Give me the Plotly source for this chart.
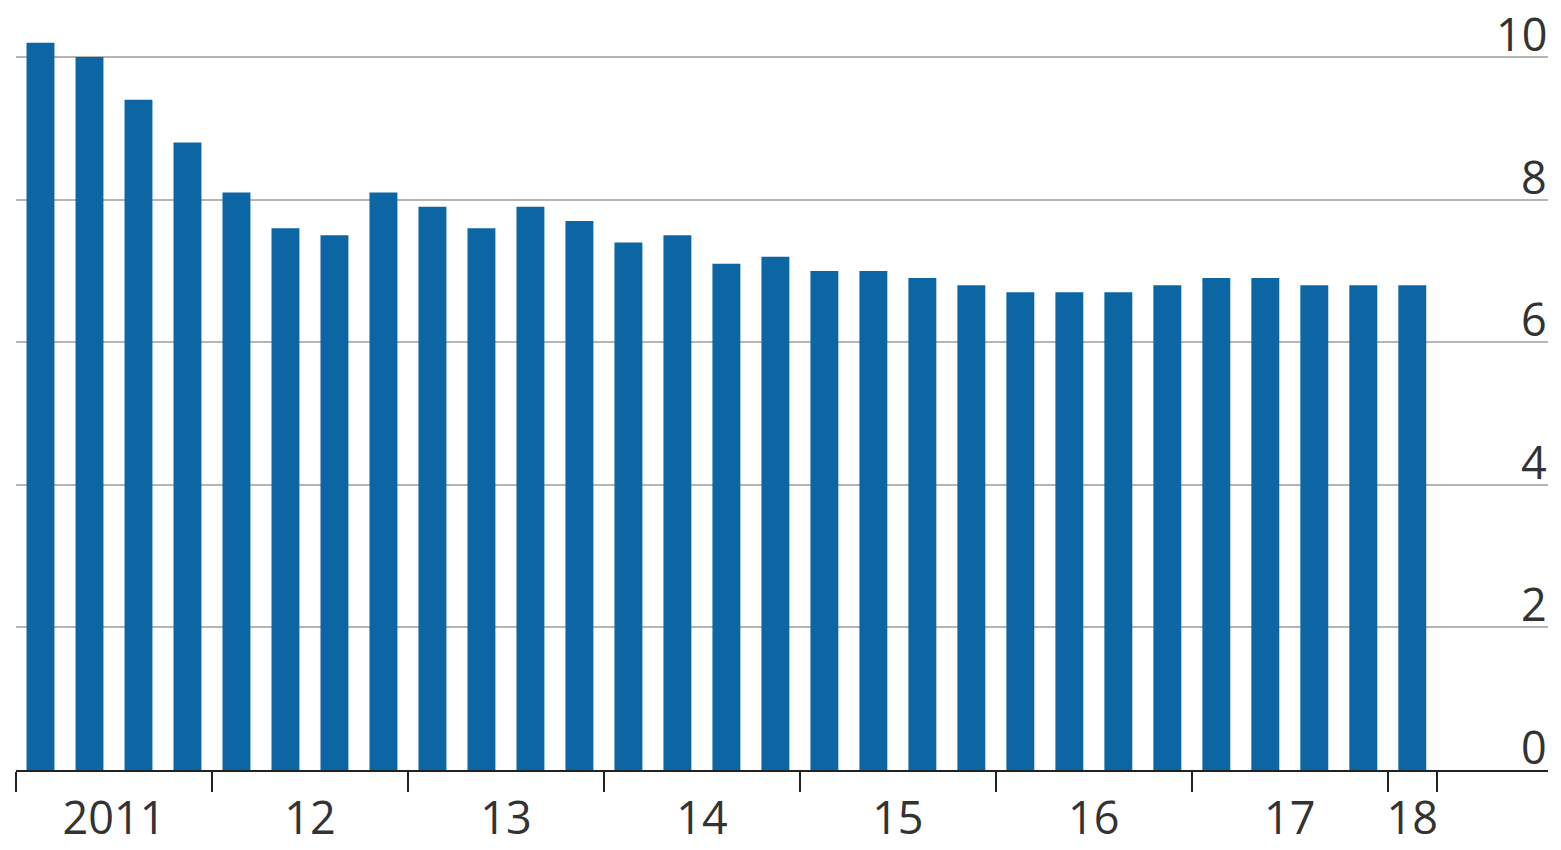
import plotly.graph_objects as go

quarters = [f"{y} Q{q}" for y in range(2011, 2019) for q in range(1, 5)][:29]
values = [10.2, 10.0, 9.4, 8.8, 8.1, 7.6, 7.5, 8.1,
          7.9, 7.6, 7.9, 7.7, 7.4, 7.5, 7.1, 7.2,
          7.0, 7.0, 6.9, 6.8, 6.7, 6.7, 6.7, 6.8,
          6.9, 6.9, 6.8, 6.8, 6.8]
year_labels = ["2011", "12", "13", "14", "15", "16", "17", "18"]
year_centers = [1.5, 5.5, 9.5, 13.5, 17.5, 21.5, 25.5, 28]
year_bounds = [-0.5, 3.5, 7.5, 11.5, 15.5, 19.5, 23.5, 27.5, 28.5]
y_ticks = [0, 2, 4, 6, 8, 10]

x = list(range(len(values)))

fig = go.Figure(go.Bar(
    x=x, y=values, marker=dict(color="#0d66a4", line=dict(width=0)),
    hovertext=quarters, hoverinfo="text+y",
))

font_family = "Open Sans, Noto Sans, sans-serif"
label_color = "#333333"
fsize = 45
fig.update_layout(
    width=1561, height=850,
    margin=dict(l=16, r=13, t=0, b=80, autoexpand=False),
    paper_bgcolor="white", plot_bgcolor="white",
    bargap=0.43, showlegend=False,
    font=dict(family=font_family, size=fsize, color=label_color),
)
fig.update_xaxes(
    range=[-0.5, 30.77], automargin=False,
    tickmode="array", tickvals=year_centers, ticktext=year_labels,
    ticks="", showgrid=False, zeroline=False,
    showline=True, linecolor="#222222", linewidth=2,
    ticklabelstandoff=8,
    minor=dict(tickmode="array", tickvals=year_bounds, ticks="outside",
               ticklen=20, tickwidth=2, tickcolor="#222222", showgrid=False),
    tickfont=dict(size=fsize, color=label_color),
)
fig.update_yaxes(
    range=[0, 10.8], side="right", automargin=False,
    tickmode="array", tickvals=y_ticks, showticklabels=False, ticks="",
    showgrid=True, gridcolor="#b5b5b5", gridwidth=2,
    zeroline=False, showline=False,
)
for v in y_ticks:
    fig.add_annotation(
        x=1, xref="paper", xanchor="right",
        y=v, yref="y", yanchor="bottom", yshift=-8, borderpad=0,
        text=str(v), showarrow=False,
        font=dict(size=fsize, color=label_color, family=font_family),
    )

fig.write_html("out.html")
